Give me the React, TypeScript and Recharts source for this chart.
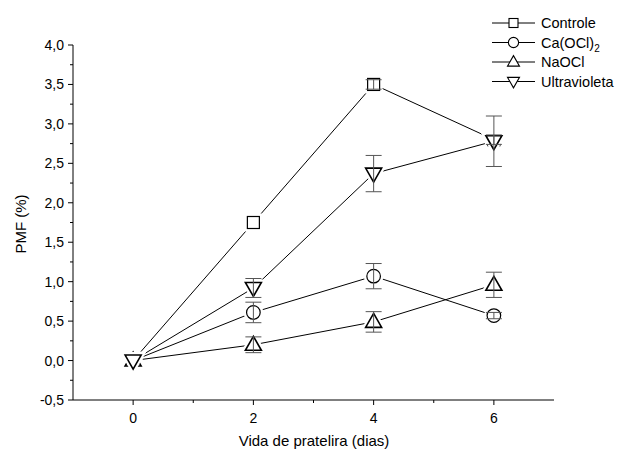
import React from 'react';
import { LineChart, Line, XAxis, YAxis, ErrorBar, Legend } from 'recharts';

const days = [0, 2, 4, 6];
const controle = [0, 1.75, 3.5, 2.8];
const controleErr = [null, null, 0.06, 0.06];
const caocl = [0, 0.61, 1.07, 0.57];
const caoclErr = [null, 0.13, 0.16, 0.04];
const naocl = [0, 0.2, 0.49, 0.96];
const naoclErr = [null, 0.1, 0.13, 0.16];
const uv = [0, 0.92, 2.37, 2.78];
const uvErr = [null, 0.12, 0.23, 0.32];

const xTicks = [0, 1, 2, 3, 4, 5, 6];
const xLabels = [0, 2, 4, 6];
const yTicks = [-0.5, -0.25, 0, 0.25, 0.5, 0.75, 1, 1.25, 1.5, 1.75, 2, 2.25, 2.5, 2.75, 3, 3.25, 3.5, 3.75, 4];
const yLabels = [-0.5, 0, 0.5, 1, 1.5, 2, 2.5, 3, 3.5, 4];

const data = days.map((d, i) => ({
  day: d,
  controle: controle[i],
  controleErr: controleErr[i],
  caocl: caocl[i],
  caoclErr: caoclErr[i],
  naocl: naocl[i],
  naoclErr: naoclErr[i],
  uv: uv[i],
  uvErr: uvErr[i],
}));

const FONT = '"Liberation Sans", Arial, sans-serif';

type Shape = 'square' | 'circle' | 'up' | 'down';

function shapeEl(shape: Shape, cx: number, cy: number, s: number, props: any) {
  if (shape === 'square') {
    return <rect x={cx - 6 * s} y={cy - 6 * s} width={12 * s} height={12 * s} {...props} />;
  }
  if (shape === 'circle') {
    return <circle cx={cx} cy={cy} r={6.8 * s} {...props} />;
  }
  if (shape === 'up') {
    const pts = `${cx},${cy - 8.5 * s} ${cx - 8 * s},${cy + 5.5 * s} ${cx + 8 * s},${cy + 5.5 * s}`;
    return <polygon points={pts} {...props} />;
  }
  const pts = `${cx},${cy + 8.5 * s} ${cx - 8 * s},${cy - 5.5 * s} ${cx + 8 * s},${cy - 5.5 * s}`;
  return <polygon points={pts} {...props} />;
}

const makeDot = (shape: Shape) => (p: any) => {
  const { cx, cy, index } = p;
  if (cx == null || cy == null) return <g key={index} />;
  const sw = shape === 'up' || shape === 'down' ? 1.6 : 1.2;
  return (
    <g key={`${shape}-${index}`}>
      {shapeEl(shape, cx, cy, 1, { fill: '#fff', stroke: '#fff', strokeWidth: 6 })}
      {shapeEl(shape, cx, cy, 1, { fill: '#fff', stroke: '#000', strokeWidth: sw })}
    </g>
  );
};

const series: { key: string; name: string; shape: Shape }[] = [
  { key: 'controle', name: 'Controle', shape: 'square' },
  { key: 'caocl', name: 'Ca(OCl)', shape: 'circle' },
  { key: 'naocl', name: 'NaOCl', shape: 'up' },
  { key: 'uv', name: 'Ultravioleta', shape: 'down' },
];

const YTick = (p: any) => {
  const { x, y, payload } = p;
  const v = payload.value as number;
  const major = yLabels.some((l) => Math.abs(l - v) < 1e-6);
  return (
    <g>
      <line x1={x - (major ? 5 : 3)} x2={x} y1={y} y2={y} stroke="#000" strokeWidth={1} />
      {major && (
        <text x={x - 9} y={y} dy={5} textAnchor="end" fontSize={14} fontFamily={FONT} fill="#000">
          {v.toFixed(1).replace('.', ',')}
        </text>
      )}
    </g>
  );
};

const XTick = (p: any) => {
  const { x, y, payload } = p;
  const v = payload.value as number;
  const major = xLabels.includes(v);
  return (
    <g>
      <line x1={x} x2={x} y1={y} y2={y + (major ? 5 : 3)} stroke="#000" strokeWidth={1} />
      {major && (
        <text x={x} y={y + 23} textAnchor="middle" fontSize={14} fontFamily={FONT} fill="#000">
          {String(v)}
        </text>
      )}
    </g>
  );
};

const renderLegend = () => (
  <svg width={140} height={90} style={{ display: 'block' }}>
    {series.map((s, i) => {
      const y = 10 + i * 19.5;
      return (
        <g key={s.key}>
          <line x1={4} x2={47} y1={y} y2={y} stroke="#000" strokeWidth={1} />
          {shapeEl(s.shape, 25.5, y, 0.75, { fill: '#fff', stroke: '#000', strokeWidth: 1.1 })}
          <text x={53} y={y + 5} fontSize={14.5} fontFamily={FONT} fill="#000">
            {s.name}
            {s.key === 'caocl' && (
              <tspan fontSize={10} dy={4}>2</tspan>
            )}
          </text>
        </g>
      );
    })}
  </svg>
);

export default function App() {
  return (
    <div style={{ position: 'absolute', left: 0, top: 0, width: 629, height: 452, background: '#fff' }}>
      <LineChart width={629} height={452} data={data} margin={{ top: 45, right: 75, bottom: 0, left: 0 }}>
        <XAxis
          dataKey="day"
          type="number"
          domain={[-1, 7]}
          ticks={xTicks}
          interval={0}
          tickSize={0}
          tickMargin={0}
          tickLine={false}
          tick={XTick}
          axisLine={{ stroke: '#000', strokeWidth: 1 }}
          height={52}
          label={{
            content: () => (
              <text x={314} y={446} textAnchor="middle" fontSize={15} fontFamily={FONT} fill="#000">
                Vida de pratelira (dias)
              </text>
            ),
          }}
        />
        <YAxis
          type="number"
          domain={[-0.5, 4]}
          ticks={yTicks}
          interval={0}
          width={73}
          tickSize={0}
          tickMargin={0}
          tickLine={false}
          tick={YTick}
          axisLine={{ stroke: '#000', strokeWidth: 1 }}
          label={{
            content: () => (
              <text
                x={21}
                y={224}
                textAnchor="middle"
                fontSize={15}
                fontFamily={FONT}
                fill="#000"
                transform="rotate(-90 21 224)"
                dy={5}
              >
                PMF (%)
              </text>
            ),
          }}
        />
        <Legend
          layout="vertical"
          verticalAlign="middle"
          align="center"
          content={renderLegend}
          wrapperStyle={{ position: 'absolute', left: 488, top: 13, width: 140, height: 90 }}
        />
        {series.map((s) => (
          <Line
            key={s.key}
            dataKey={s.key}
            stroke="#000"
            strokeWidth={1}
            dot={makeDot(s.shape)}
            activeDot={false}
            isAnimationActive={false}
            legendType="none"
          />
        ))}
        {series.map((s) => (
          <Line
            key={`${s.key}-err`}
            dataKey={s.key}
            stroke="none"
            dot={false}
            activeDot={false}
            isAnimationActive={false}
            legendType="none"
            {...({ zIndex: 1600 } as any)}
          >
            <ErrorBar
              dataKey={`${s.key}Err`}
              width={8}
              stroke="#555"
              strokeWidth={1}
              direction="y"
              {...({ zIndex: 1600 } as any)}
            />
          </Line>
        ))}
      </LineChart>
    </div>
  );
}
